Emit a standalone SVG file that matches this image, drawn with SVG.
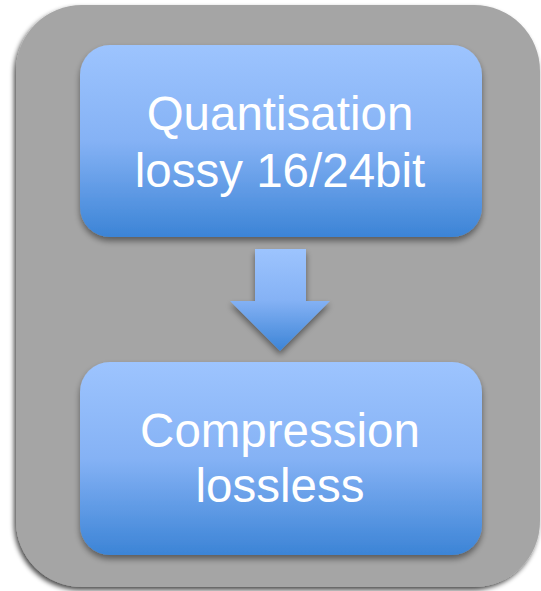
<svg xmlns="http://www.w3.org/2000/svg" width="541" height="591" viewBox="0 0 541 591">
<defs>
<linearGradient id="blue" x1="0" y1="0" x2="0" y2="1">
<stop offset="0" stop-color="#9dc4fe"/>
<stop offset="0.5" stop-color="#85b2f5"/>
<stop offset="1" stop-color="#3c84d6"/>
</linearGradient>
<filter id="sh" x="-10%" y="-10%" width="120%" height="120%">
<feGaussianBlur in="SourceAlpha" stdDeviation="2.5"/>
<feOffset dx="-2" dy="3" result="b"/>
<feComponentTransfer><feFuncA type="linear" slope="0.7"/></feComponentTransfer>
<feMerge><feMergeNode/><feMergeNode in="SourceGraphic"/></feMerge>
</filter>
<filter id="sh2" x="-10%" y="-10%" width="120%" height="125%">
<feGaussianBlur in="SourceAlpha" stdDeviation="3"/>
<feOffset dx="0" dy="4" result="b"/>
<feComponentTransfer><feFuncA type="linear" slope="0.45"/></feComponentTransfer>
<feMerge><feMergeNode/><feMergeNode in="SourceGraphic"/></feMerge>
</filter>
</defs>
<style>
.box{fill:url(#blue);filter:url(#sh2)}
.t{font-family:"Liberation Sans",Arial,sans-serif;font-size:47.5px;fill:#ffffff;text-anchor:middle}
</style>
<g id="container">
<rect x="16" y="5" width="524" height="582" rx="66" ry="66" fill="#a5a5a5" filter="url(#sh)"/>
</g>
<g id="node-quantisation">
<rect class="box" x="80" y="45" width="402" height="192" rx="30" ry="30"/>
<text class="t" x="280" y="130">Quantisation</text>
<text class="t" x="280" y="187">lossy 16/24bit</text>
</g>
<g id="connectors">
<polygon points="255,249 306,249 306,301 330,301 280,351 230,301 255,301" fill="url(#blue)" filter="url(#sh2)"/>
</g>
<g id="node-compression">
<rect class="box" x="80" y="362" width="402" height="193" rx="30" ry="30"/>
<text class="t" x="280" y="447">Compression</text>
<text class="t" x="280" y="502">lossless</text>
</g>
</svg>
